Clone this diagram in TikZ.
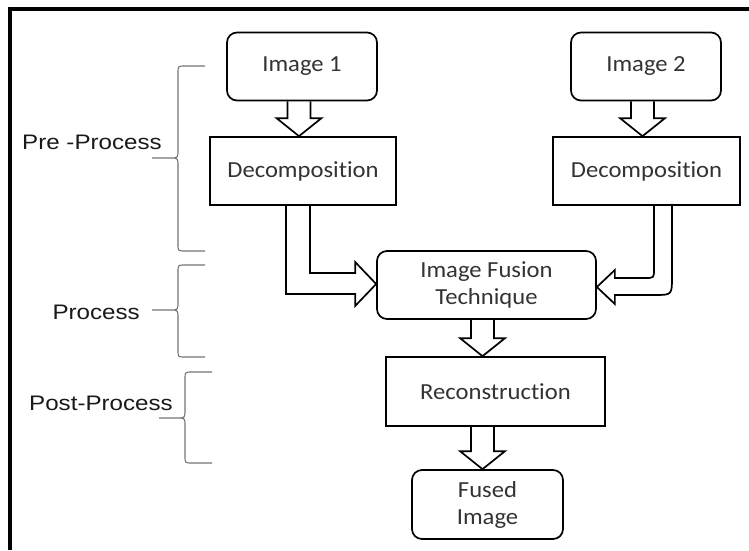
\documentclass[tikz,border=0pt]{standalone}
\usepackage{fontspec}
\setmainfont[FakeStretch=1.07, Ligatures=NoCommon]{Carlito}
\newfontfamily\labelfont[FakeStretch=1.15]{Liberation Sans}
\usetikzlibrary{calc,positioning}

\tikzset{
  box/.style={draw, line width=1.7pt, inner sep=0pt, align=center,
    minimum height=68pt, text=black!80,
    font=\fontsize{23}{27}\selectfont},
  roundbox/.style={box, rounded corners=10pt},
  hollow/.style={line width=1.7pt, line join=miter},
  brace/.style={draw=black!55, line width=1.1pt},
  stagelabel/.style={inner sep=0pt, anchor=east, text=black!90,
    font=\labelfont\fontsize{21}{25}\selectfont}
}

% hollow block arrow pointing down, from #2 to #3 (#1 = x shift)
\newcommand{\hollowdown}[3][0]{%
  \coordinate (t) at ($(#3.north)+(#1,0)$);
  \draw[hollow] ($(#2.south -| t)+(-11.5,0)$) -- ($(t)+(-11.5,-18)$)
    -- ($(t)+(-22.5,-18)$) -- (t) -- ($(t)+(22.5,-18)$)
    -- ($(t)+(11.5,-18)$) -- ($(#2.south -| t)+(11.5,0)$);}

% curly bracket: #1 = x of the spine, #2 = top, #3 = tip, #4 = bottom
\newcommand{\stagebrace}[4]{%
  \draw[brace] ({#1+27},#2) -- ({#1+7},#2) .. controls (#1,#2) .. (#1,{#2+7})
    -- (#1,{#3-8}) .. controls (#1,#3) .. ({#1-8},#3) -- ({#1-26},#3)
    ({#1-8},#3) .. controls (#1,#3) .. (#1,{#3+8})
    -- (#1,{#4-7}) .. controls (#1,#4) .. ({#1+7},#4) -- ({#1+27},#4);}

\begin{document}
\begin{tikzpicture}[x=1pt, y=-1pt]
    \useasboundingbox (0,0) rectangle (749,550);
    % frame
    \draw[line width=4pt, line join=miter] (749,8.7) -- (10.3,8.7) -- (10.3,550);

    % boxes
    \node[roundbox, minimum width=150pt] (img1) at (302,66.5) {Image 1};
    \node[roundbox, minimum width=150pt] (img2) at (646,66.5) {Image 2};
    \node[box, minimum width=186pt] (dec1) at (303,171) {Decomposition};
    \node[box, minimum width=187pt] (dec2) at (646.5,171) {Decomposition};
    \node[roundbox, minimum width=219pt] (fus) at (486.5,285) {Image Fusion\\Technique};
    \node[box, minimum width=219pt, minimum height=69pt] (rec) at (495.5,391.5) {Reconstruction};
    \node[roundbox, minimum width=151pt, minimum height=69pt] (out) at (487.5,504.5) {Fused\\Image};

    % arrows
    \hollowdown[-4]{img1}{dec1}
    \hollowdown[-4]{img2}{dec2}
    \hollowdown[-13]{fus}{rec}
    \hollowdown[-5]{rec}{out}

    \coordinate (tipL) at ($(fus.west)+(0,-1)$);
    \draw[hollow] ($(dec1.south)+(-17,0)$) |- ($(tipL)+(-21,10)$)
      -- ($(tipL)+(-21,22)$) -- (tipL) -- ($(tipL)+(-21,-22)$)
      -- ($(tipL)+(-21,-11)$) -| ($(dec1.south)+(7,0)$);

    \coordinate (tipR) at ($(fus.east)+(0,2)$);
    \coordinate (rA) at ($(dec2.south)+(25.5,0)$);
    \coordinate (rB) at ($(dec2.south)+(7.5,0)$);
    \draw[hollow] (rA) -- ($(rA |- tipR)+(0,-10)$)
      .. controls ($(rA |- tipR)+(0,8)$) .. ($(rA |- tipR)+(-18,8)$)
      -- ($(tipR)+(18,8)$) -- ($(tipR)+(18,17)$) -- (tipR)
      -- ($(tipR)+(18,-17)$) -- ($(tipR)+(18,-9)$)
      -- ($(rB |- tipR)+(-9,-9)$)
      .. controls ($(rB |- tipR)+(0,-9)$) .. ($(rB |- tipR)+(0,-18)$)
      -- (rB);

    % stages
    \stagebrace{178}{66}{158}{251}
    \stagebrace{178}{265}{310}{357}
    \stagebrace{185}{372}{418}{463}
    \node[stagelabel] (pre) at (162,142) {Pre -Process};
    \node[stagelabel] (proc) at (140,312) {Process};
    \node[stagelabel] (post) at (173,403) {Post-Process};
  \end{tikzpicture}
\end{document}
